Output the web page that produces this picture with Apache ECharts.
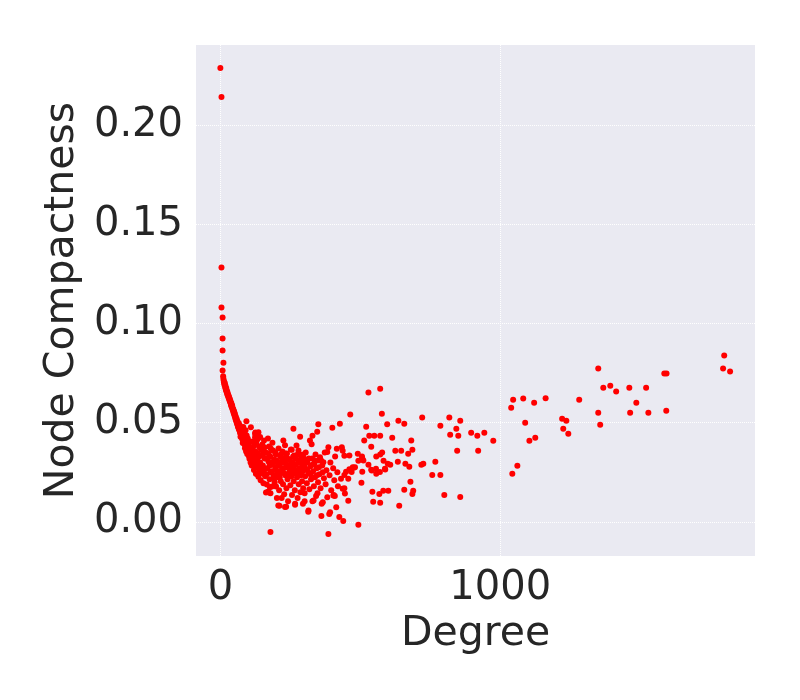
<!DOCTYPE html>
<html>
<head>
<meta charset="utf-8">
<script src="https://cdn.jsdelivr.net/npm/echarts@6/dist/echarts.min.js"></script>
<style>html,body{margin:0;padding:0;background:#fff;}#c{width:800px;height:700px;}</style>
</head>
<body>
<div id="c"></div>
<script>
// Tick values
const xTicks = [0, 1000];
const yTicks = [0, 0.05, 0.10, 0.15, 0.20];

// Data points [degree, node compactness]
const topPoints = [[0,0.2289],[4,0.2143],[4,0.1283],[4,0.1081],[8,0.1031],[8,0.0925],[8,0.0864],[11,0.0803],[8,0.0763]];

const curvePoints = [[10,0.0735],[11,0.0722],[12,0.0712],[13,0.0705],[14,0.0698],[15,0.0690],[16,0.0700],[17,0.0680],[18,0.0688],[19,0.0672],[20,0.0665],[21,0.0675],[22,0.0658],[23,0.0662],[24,0.0648],[25,0.0655],[26,0.0640],[27,0.0645],[28,0.0632],[29,0.0638],[30,0.0625],[31,0.0630],[32,0.0618],[33,0.0612],[34,0.0620],[35,0.0605],[36,0.0610],[37,0.0598],[38,0.0590],[39,0.0600],[40,0.0585],[41,0.0578],[42,0.0588],[43,0.0570],[44,0.0575],[45,0.0562],[46,0.0568],[47,0.0555],[48,0.0548],[49,0.0558],[50,0.0542],[51,0.0535],[52,0.0545],[53,0.0528],[54,0.0520],[55,0.0532],[56,0.0515],[57,0.0508],[58,0.0520],[59,0.0500],[60,0.0495],[61,0.0505],[62,0.0488],[63,0.0480],[64,0.0492],[65,0.0475],[66,0.0468],[67,0.0482],[68,0.0462],[69,0.0470],[70,0.0455],[71,0.0448],[72,0.0460],[73,0.0442],[74,0.0435],[75,0.0450],[76,0.0430],[77,0.0440],[78,0.0422],[79,0.0415],[80,0.0432],[82,0.0410],[83,0.0420],[84,0.0402],[85,0.0395],[86,0.0412],[88,0.0388],[89,0.0400],[90,0.0380],[92,0.0392],[93,0.0372],[95,0.0385],[96,0.0365],[98,0.0378],[100,0.0358],
[60,0.0510],[66,0.0498],[70,0.0485],[74,0.0472],[78,0.0462],[82,0.0478],[86,0.0448],[90,0.0462],[94,0.0436],[98,0.0420],[72,0.0430],[80,0.0398],[88,0.0372],[92,0.0355],[96,0.0342],[100,0.0390],[104,0.0405],[109,0.0477],[93,0.0507],[125,0.0451],[130,0.0445],[142,0.0428],[124,0.0445],[130,0.0411]];

const clusterPoints = [[102,0.0332],[104,0.0318],[106,0.0352],[108,0.0300],[110,0.0368],[112,0.0285],[114,0.0340],[116,0.0310],[118,0.0380],[120,0.0262],[122,0.0325],[124,0.0295],[126,0.0355],[127,0.0243],[128,0.0398],[130,0.0275],[132,0.0315],[134,0.0345],[136,0.0228],[138,0.0380],[140,0.0260],[142,0.0300],[144,0.0210],[146,0.0335],[148,0.0362],[150,0.0245],[152,0.0285],[154,0.0195],[156,0.0410],[158,0.0320],[160,0.0230],[115,0.0405],[135,0.0420],[150,0.0390],
[162,0.0350],[163,0.0148],[166,0.0188],[168,0.0270],[170,0.0152],[172,0.0305],[174,0.0380],[176,0.0215],[178,0.0330],[179,0.0145],[179,-0.0051],[180,0.0250],[182,0.0290],[184,0.0178],[186,0.0399],[188,0.0360],[190,0.0235],[192,0.0315],[194,0.0200],[196,0.0275],[198,0.0340],[199,0.0178],[200,0.0260],[202,0.0120],[204,0.0300],[206,0.0225],[208,0.0370],[210,0.0160],[211,0.0082],[212,0.0285],[214,0.0330],[216,0.0205],[218,0.0250],[219,0.0121],[220,0.0310],[170,0.0420],
[222,0.0355],[224,0.0190],[225,0.0411],[226,0.0270],[228,0.0140],[230,0.0320],[231,0.0386],[232,0.0235],[234,0.0295],[235,0.0077],[236,0.0170],[238,0.0345],[240,0.0215],[242,0.0104],[244,0.0280],[246,0.0250],[248,0.0315],[250,0.0185],[252,0.0365],[254,0.0230],[255,0.0364],[256,0.0135],[258,0.0300],[260,0.0265],[261,0.0470],[262,0.0205],[264,0.0335],[266,0.0160],[267,0.0087],[268,0.0245],[270,0.0290],[272,0.0385],[274,0.0225],[276,0.0120],[278,0.0310],[279,0.0360],[280,0.0190],[282,0.0270],[284,0.0340],[285,0.0430],[286,0.0150],[288,0.0235],[290,0.0300],[292,0.0205],[294,0.0255],[295,0.0091],[296,0.0170],[298,0.0320],[300,0.0280],
[301,0.0145],[301,0.0104],[303,0.0230],[305,0.0350],[307,0.0265],[309,0.0195],[311,0.0300],[314,0.0051],[316,0.0245],[318,0.0165],[320,0.0411],[322,0.0280],[324,0.0215],[326,0.0391],[328,0.0320],[329,0.0104],[329,0.0435],[331,0.0255],[334,0.0180],[336,0.0295],[338,0.0225],[340,0.0340],[342,0.0130],[344,0.0270],[346,0.0455],[347,0.0145],[349,0.0200],[350,0.0492],[352,0.0310],[354,0.0240],[356,0.0326],[358,0.0170],[361,0.0030],[362,0.0091],[364,0.0285],[366,0.0099],[368,0.0301],[370,0.0220],[373,0.0350],[376,0.0190],[379,0.0260],[382,0.0124],[382,0.0352],[386,0.0377],[386,-0.0061],[389,0.0040],[390,0.0235],[393,0.0300],[396,0.0160],[400,0.0475],[403,0.0270],[405,0.0136],[407,0.0210],[409,0.0131],[410,0.0330],[414,0.0074],[416,0.0369],[418,0.0250],[420,0.0180]];

const extraClusterPoints = [[136,0.0452],[124,0.0427],[130,0.0243],[136,0.0235],[171,0.0150],[177,0.0175],[207,0.0083],[231,0.0075],[267,0.0092],[315,0.0057],[333,0.0108],[392,0.0049],[404,0.0133],
[112,0.0360],[118,0.0330],[122,0.0300],[128,0.0350],[132,0.0285],[138,0.0330],[144,0.0370],[146,0.0270],[152,0.0340],[156,0.0260],[158,0.0375],[164,0.0320],[166,0.0240],[172,0.0345],[176,0.0285],[180,0.0370],[184,0.0255],[188,0.0300],[192,0.0220],[196,0.0350],[200,0.0310],[204,0.0245],[208,0.0290],[212,0.0225],[216,0.0340],[220,0.0265],[224,0.0300],[228,0.0245],[232,0.0345],[236,0.0275],[240,0.0320],[244,0.0230],[248,0.0270],[252,0.0295],[256,0.0250],[260,0.0330],[264,0.0285],[268,0.0320],[272,0.0260],[276,0.0340],[280,0.0300],[284,0.0250],[288,0.0320],[292,0.0280],[296,0.0340],[304,0.0305],[310,0.0260],[316,0.0320],[322,0.0240],[330,0.0290],[338,0.0310],[345,0.0235],[352,0.0275],[360,0.0310],[366,0.0250]];

const midPoints = [[425,0.0025],[427,0.0495],[431,0.0217],[434,0.0377],[437,0.0359],[437,0.0167],[439,0.0005],[443,0.0333],[443,0.0237],[443,0.0170],[445,0.0143],[449,0.0253],[457,0.0217],[457,0.0106],[461,0.0335],[461,0.0266],[464,0.0541],[469,0.0251],[473,0.0276],[476,0.0273],[481,0.0276],[491,0.0344],[493,0.0308],[493,-0.0015],[504,0.0197],[506,0.0330],[507,0.0321],[507,0.0253],[511,0.0310],[514,0.0410],[521,0.0480],[529,0.0652],[529,0.0288],[532,0.0435],[539,0.0379],[539,0.0263],[541,0.0259],[543,0.0152],[546,0.0101],[550,0.0435],[556,0.0268],[557,0.0330],[557,0.0243],[568,0.0141],[570,0.0251],[571,0.0672],[571,0.0435],[571,0.0340],[571,0.0096],[577,0.0546],[578,0.0350],[582,0.0157],[583,0.0308],[588,0.0268],[589,0.0264],[596,0.0492],[598,0.0293],[600,0.0157],[607,0.0288],[614,0.0424],[625,0.0359],[634,0.0303],[636,0.0510],[639,0.0081],[646,0.0359],[657,0.0495],[657,0.0162],[661,0.0293],[671,0.0344],[675,0.0278],[679,0.0202],[682,0.0410],[686,0.0364],[686,0.0141],[689,0.0157]];

const tailPoints = [[718,0.0288],[721,0.0526],[725,0.0293],[757,0.0237],[768,0.0303],[786,0.0485],[786,0.0237],[800,0.0136],[818,0.0526],[821,0.0440],[843,0.0470],[846,0.0359],[850,0.0435],[857,0.0510],[857,0.0126],[896,0.0450],[918,0.0435],[921,0.0359],[943,0.0450],[975,0.0409],[1039,0.0576],[1043,0.0243],[1046,0.0616],[1061,0.0283],[1082,0.0622],[1089,0.0500],[1104,0.0409],[1121,0.0601],[1125,0.0424],[1162,0.0623],[1221,0.0520],[1225,0.0470],[1236,0.0510],[1243,0.0445],[1282,0.0616],[1350,0.0773],[1350,0.0551],[1357,0.0490],[1368,0.0677],[1393,0.0687],[1414,0.0657],[1461,0.0677],[1464,0.0551],[1486,0.0601],[1521,0.0677],[1529,0.0551],[1586,0.0748],[1594,0.0748],[1593,0.0561],[1796,0.0773],[1800,0.0839],[1821,0.0758]];

const allPoints = [].concat(topPoints, curvePoints, clusterPoints, extraClusterPoints, midPoints, tailPoints);

const chart = echarts.init(document.getElementById('c'), null, {renderer: 'canvas'});
const FONT = 'DejaVu Sans';
const TXT = '#262626';
chart.setOption({
  animation: false,
  backgroundColor: '#ffffff',
  grid: {left: 196, right: 45, top: 45, bottom: 144, show: true, backgroundColor: '#EAEAF2', borderWidth: 0},
  xAxis: {
    type: 'value', min: -87, max: 1910,
    name: 'Degree', nameLocation: 'middle', nameGap: 58,
    nameTextStyle: {fontFamily: FONT, fontSize: 41, color: TXT},
    axisLine: {show: false}, axisTick: {show: false, customValues: xTicks},
    axisLabel: {customValues: xTicks, fontFamily: FONT, fontSize: 40, color: TXT, margin: 13,
      formatter: v => String(Math.round(v))},
    splitLine: {show: true, lineStyle: {color: '#ffffff', type: 'dotted', width: 1}}
  },
  yAxis: {
    type: 'value', min: -0.0172, max: 0.2405,
    name: 'Node Compactness', nameLocation: 'middle', nameGap: 112, nameRotate: 90,
    nameTextStyle: {fontFamily: FONT, fontSize: 41, color: TXT},
    axisLine: {show: false}, axisTick: {show: false, customValues: yTicks},
    axisLabel: {customValues: yTicks, fontFamily: FONT, fontSize: 40, color: TXT, margin: 13,
      padding: [4, 0, 0, 0],
      formatter: v => v.toFixed(2)},
    splitLine: {show: true, lineStyle: {color: '#ffffff', type: 'dotted', width: 1}}
  },
  series: [{
    type: 'scatter', data: allPoints, symbolSize: 6,
    itemStyle: {color: '#ff0000', opacity: 1}
  }]
});
</script>
</body>
</html>
